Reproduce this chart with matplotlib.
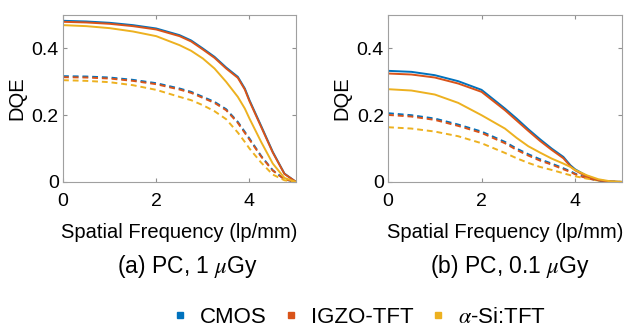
import matplotlib.pyplot as plt
from matplotlib.lines import Line2D

plt.rcParams['font.family'] = ['Liberation Sans', 'DejaVu Sans']
plt.rcParams['mathtext.fontset'] = 'stix'

freq = [0, 0.5, 1, 1.5, 2, 2.5, 2.75, 3, 3.25, 3.5, 3.75, 3.9, 4.0, 4.25, 4.5, 4.75, 5]

# (a) PC, 1 uGy
a_cmos = [0.483, 0.481, 0.477, 0.470, 0.460, 0.440, 0.424, 0.400, 0.375, 0.343, 0.315, 0.280, 0.245, 0.168, 0.090, 0.025, 0.0]
a_igzo = [0.480, 0.478, 0.474, 0.467, 0.457, 0.437, 0.421, 0.397, 0.372, 0.340, 0.312, 0.277, 0.242, 0.165, 0.088, 0.024, 0.0]
a_asi = [0.470, 0.467, 0.461, 0.451, 0.437, 0.410, 0.393, 0.370, 0.340, 0.300, 0.255, 0.220, 0.190, 0.120, 0.055, 0.012, 0.0]
a_cmos_d = [0.317, 0.316, 0.313, 0.306, 0.296, 0.280, 0.270, 0.255, 0.240, 0.218, 0.180, 0.150, 0.130, 0.078, 0.035, 0.008, 0.0]
a_igzo_d = [0.314, 0.313, 0.310, 0.303, 0.293, 0.277, 0.267, 0.252, 0.237, 0.215, 0.177, 0.147, 0.127, 0.076, 0.034, 0.008, 0.0]
a_asi_d = [0.305, 0.303, 0.299, 0.290, 0.276, 0.255, 0.245, 0.230, 0.212, 0.188, 0.148, 0.120, 0.100, 0.058, 0.022, 0.005, 0.0]

# (b) PC, 0.1 uGy
b_cmos = [0.333, 0.330, 0.320, 0.302, 0.276, 0.220, 0.190, 0.158, 0.128, 0.100, 0.075, 0.050, 0.038, 0.018, 0.005, 0.001, 0.0]
b_igzo = [0.325, 0.322, 0.313, 0.295, 0.270, 0.215, 0.184, 0.153, 0.123, 0.096, 0.071, 0.047, 0.035, 0.016, 0.005, 0.001, 0.0]
b_asi = [0.278, 0.274, 0.262, 0.237, 0.200, 0.160, 0.132, 0.107, 0.088, 0.070, 0.055, 0.045, 0.036, 0.020, 0.008, 0.002, 0.0]
b_cmos_d = [0.206, 0.200, 0.190, 0.172, 0.151, 0.120, 0.100, 0.083, 0.068, 0.055, 0.041, 0.032, 0.025, 0.012, 0.004, 0.001, 0.0]
b_igzo_d = [0.201, 0.196, 0.186, 0.168, 0.147, 0.116, 0.096, 0.079, 0.064, 0.052, 0.038, 0.030, 0.023, 0.011, 0.004, 0.001, 0.0]
b_asi_d = [0.164, 0.160, 0.151, 0.137, 0.116, 0.087, 0.071, 0.057, 0.045, 0.036, 0.026, 0.020, 0.017, 0.010, 0.004, 0.001, 0.0]

labels = ['CMOS', 'IGZO-TFT', r'$\alpha$-Si:TFT']
colors = ['#0072BD', '#D95319', '#EDB120']
titles = [r'(a) PC, 1 $\mu$Gy', r'(b) PC, 0.1 $\mu$Gy']
title_x = [0.535, 0.52]

fig = plt.figure(figsize=(6.3, 3.29), dpi=100)
ax1 = fig.add_axes([0.100, 0.447, 0.370, 0.507])
ax2 = fig.add_axes([0.616, 0.447, 0.371, 0.507])

panels = [
    (ax1, [a_cmos, a_igzo, a_asi], [a_cmos_d, a_igzo_d, a_asi_d]),
    (ax2, [b_cmos, b_igzo, b_asi], [b_cmos_d, b_igzo_d, b_asi_d]),
]

for (ax, solid, dashed), title, tx in zip(panels, titles, title_x):
    for y, c in zip(dashed, colors):
        ax.plot(freq, y, color=c, lw=1.4, ls=(0, (3, 2)))
    for y, c in zip(solid, colors):
        ax.plot(freq, y, color=c, lw=1.4)
    ax.set_xlim(0, 5)
    ax.set_ylim(0, 0.5)
    ax.set_xticks([0, 2, 4])
    ax.set_yticks([0, 0.2, 0.4])
    ax.set_yticklabels(['0', '0.2', '0.4'])
    ax.tick_params(direction='in', top=True, right=True, labelsize=14,
                   length=3, color='#909090')
    ax.tick_params(axis='x', pad=8)
    ax.tick_params(axis='y', pad=3)
    for s in ax.spines.values():
        s.set_color('#a0a0a0')
        s.set_linewidth(0.8)
    ax.set_xlabel('Spatial Frequency (lp/mm)', fontsize=14.5, labelpad=9)
    ax.set_ylabel('DQE', fontsize=14.5, labelpad=4)
    ax.text(tx, -0.509, title, transform=ax.transAxes, ha='center', va='center', fontsize=16.5)

handles = [Line2D([], [], marker='s', ls='none', color=c, markersize=5) for c in colors]
fig.legend(handles, labels, loc='center', bbox_to_anchor=(0.567, 0.035), ncol=3,
           frameon=False, fontsize=16, handletextpad=0.4, columnspacing=0.6,
           handlelength=1.0)

fig.savefig('out.png', dpi=100)
